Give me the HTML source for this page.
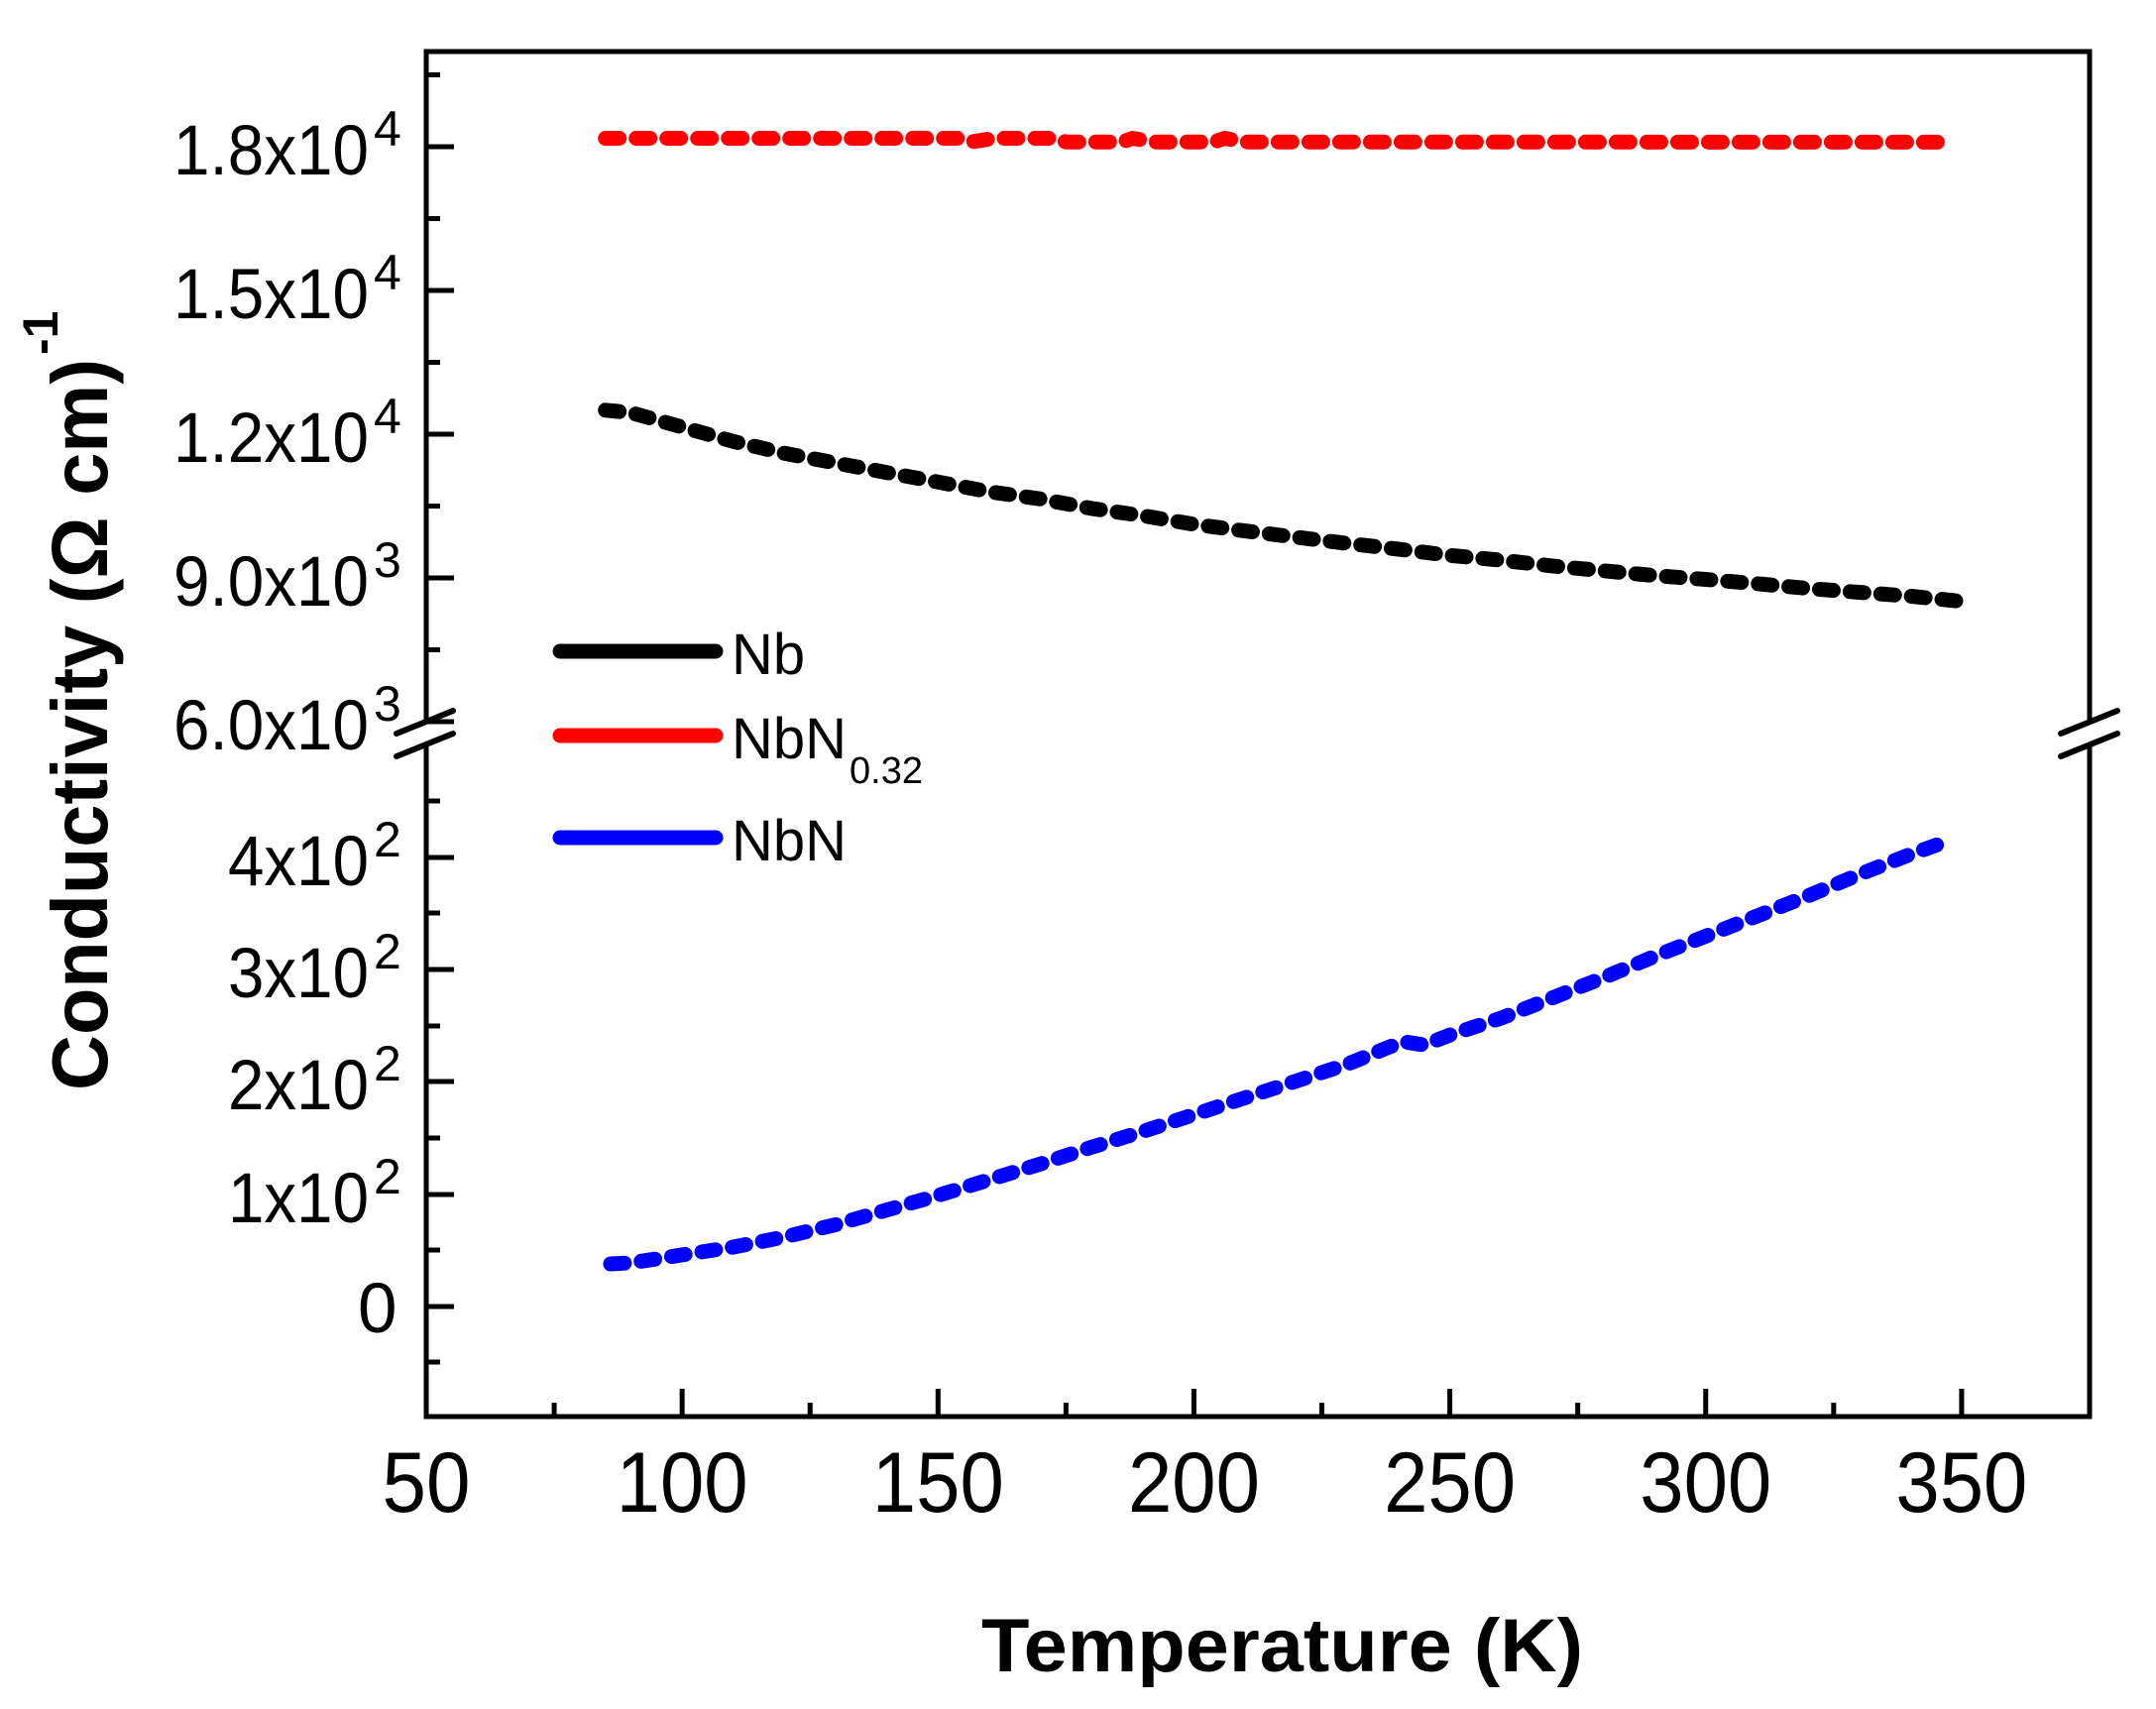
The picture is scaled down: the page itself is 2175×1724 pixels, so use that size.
<!DOCTYPE html>
<html><head><meta charset="utf-8"><style>
html,body{margin:0;padding:0;background:#fff;}
svg{display:block;font-family:"Liberation Sans",Arial,sans-serif;}
</style></head><body>
<svg id="s" width="2175" height="1724" viewBox="0 0 2175 1724" xmlns="http://www.w3.org/2000/svg">
<rect width="2175" height="1724" fill="#fff"/>
<g stroke="#000" stroke-width="5" fill="none" stroke-linecap="square">
<line x1="430" y1="52" x2="430" y2="728"/>
<line x1="430" y1="753" x2="430" y2="1429"/>
<line x1="2108" y1="52" x2="2108" y2="728"/>
<line x1="2108" y1="753" x2="2108" y2="1429"/>
<line x1="430" y1="52" x2="2108" y2="52"/>
<line x1="430" y1="1429" x2="2108" y2="1429"/>
</g>
<g stroke="#000" stroke-width="6" stroke-linecap="round">
<line x1="400" y1="740" x2="457" y2="717"/>
<line x1="400" y1="763" x2="457" y2="740"/>
<line x1="2079" y1="740" x2="2136" y2="717"/>
<line x1="2079" y1="763" x2="2136" y2="740"/>
</g>
<g id="ticks" stroke="#000" stroke-width="5"></g>
<g id="labels" font-size="71" fill="#000"></g>
<g id="series" fill="none" stroke-width="15" stroke-linecap="round" stroke-linejoin="round" stroke-dasharray="14 17"></g>
<g stroke-width="15" stroke-linecap="round">
<line x1="565" y1="657" x2="722" y2="657" stroke="#000"/>
<line x1="565" y1="742" x2="722" y2="742" stroke="#f00"/>
<line x1="565" y1="845" x2="722" y2="845" stroke="#00f"/>
</g>
<g font-size="58" fill="#000">
<text x="738" y="680">Nb</text>
<text x="738" y="765">NbN</text>
<text x="857" y="790" font-size="38">0.32</text>
<text x="738" y="868">NbN</text>
</g>
<text x="990" y="1686" font-size="76" font-weight="bold" textLength="607" lengthAdjust="spacingAndGlyphs">Temperature (K)</text>
<g transform="translate(108,1100) rotate(-90)">
<text x="0" y="0" font-size="80" font-weight="bold" textLength="738" lengthAdjust="spacingAndGlyphs">Conductivity (Ω cm)</text>
<text x="742" y="-50" font-size="50" font-weight="bold">-1</text>
</g>
</svg>
<script>
(function(){
var NS="http://www.w3.org/2000/svg";
function el(p,n,a,t){var e=document.createElementNS(NS,n);for(var k in a)e.setAttribute(k,a[k]);if(t!=null)e.textContent=t;p.appendChild(e);return e;}
var X=function(T){return 430+(T-50)*5.163;};
var YT=function(v){return 148+(18000-v)/3000*145;};
var YB=function(v){return 1318-v*1.132;};
var tk=document.getElementById('ticks'),lb=document.getElementById('labels');
for(var T=75;T<375;T+=25){var maj=(T%50===0);el(tk,'line',{x1:X(T),x2:X(T),y1:1429,y2:1429-(maj?28:14)});}
var xl=[[50,89],[100,133],[150,133],[200,133],[250,133],[300,133],[350,133]];
xl.forEach(function(d){el(lb,'text',{x:X(d[0])-d[1]/2,y:1525,'font-size':86,textLength:d[1],lengthAdjust:'spacingAndGlyphs'},String(d[0]));});
[148,293,438,583,728].forEach(function(y){el(tk,'line',{x1:430,x2:458,y1:y,y2:y});});
[75.5,220.5,365.5,510.5,655.5].forEach(function(y){el(tk,'line',{x1:430,x2:444,y1:y,y2:y});});
[865,978,1091,1205,1318].forEach(function(y){el(tk,'line',{x1:430,x2:458,y1:y,y2:y});});
[808,921,1035,1148,1261,1374].forEach(function(y){el(tk,'line',{x1:430,x2:444,y1:y,y2:y});});
var yl=[[148,'1.8x10','4'],[293,'1.5x10','4'],[438,'1.2x10','4'],[583,'9.0x10','3'],[728,'6.0x10','3'],
[865,'4x10','2'],[978,'3x10','2'],[1091,'2x10','2'],[1205,'1x10','2']];
yl.forEach(function(d){var w=d[1].length===6?197:142;
el(lb,'text',{x:372-w,y:d[0]+28,textLength:w,lengthAdjust:'spacingAndGlyphs'},d[1]);
el(lb,'text',{x:377,y:d[0]-1,'font-size':50},d[2]);});
el(lb,'text',{x:361,y:1344},'0');
var sr=document.getElementById('series');
function path(pts,col,fy){var s='';pts.forEach(function(p,i){s+=(i?'L':'M')+X(p[0]).toFixed(1)+','+fy(p[1]).toFixed(1);});el(sr,'path',{d:s,stroke:col});}
var nb=[[85,12500],[90,12450],[100,12150],[110,11850],[120,11600],[130,11400],[140,11200],[150,11000],[160,10800],[170,10650],[180,10450],[190,10300],[200,10120],[210,9980],[220,9850],[230,9720],[240,9600],[250,9470],[260,9370],[270,9250],[280,9150],[290,9050],[300,8970],[310,8880],[320,8780],[330,8700],[340,8620],[351,8500]];
path(nb,'#000',YT);
var rd=[[85,18175],[155,18175],[157,18110],[161,18175],[173,18175],[175,18100],[186,18100],[188,18175],[192,18100],[204,18100],[206,18175],[210,18100],[348,18095]];
path(rd,'#f00',YT);
var bl=[[86,38],[90,39],[100,46],[110,53],[120,62],[130,73],[140,86],[150,99],[160,113],[170,127],[180,142],[190,156],[200,171],[210,186],[220,201],[230,216],[238,231],[241,236],[245,233],[250,242],[260,257],[270,275],[280,293],[290,312],[300,330],[310,348],[320,366],[330,385],[340,403],[348,416]];
path(bl,'#00f',YB);
})();
</script>
</body></html>
